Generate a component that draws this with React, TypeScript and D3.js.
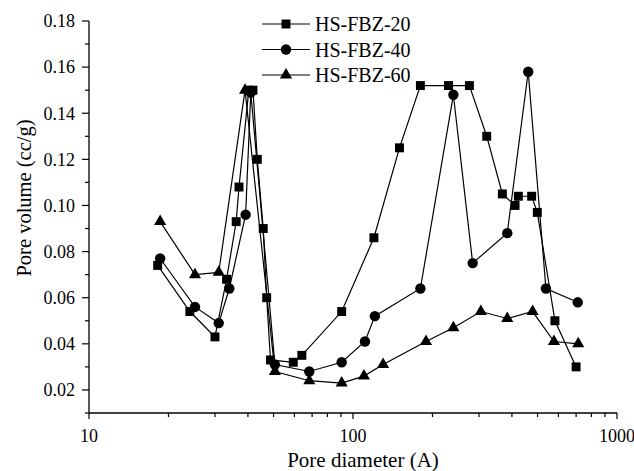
import React from "react";
import * as d3 from "d3";

const x20 = [18.2, 24.1, 30.0, 33.2, 36.1, 37.0, 40.3, 41.8, 43.4, 45.7, 47.1, 48.7, 59.4, 64.0, 90.6, 120, 150, 180, 230, 276, 321, 368, 411, 423, 475, 499, 582, 700];
const y20 = [0.074, 0.054, 0.043, 0.068, 0.093, 0.108, 0.150, 0.150, 0.120, 0.090, 0.060, 0.033, 0.032, 0.035, 0.054, 0.086, 0.125, 0.152, 0.152, 0.152, 0.130, 0.105, 0.100, 0.104, 0.104, 0.097, 0.050, 0.030];

const x40 = [18.6, 25.2, 31.0, 34.0, 39.2, 41.0, 50.6, 68.3, 90.6, 111, 121, 180, 240, 284, 384, 461, 538, 710];
const y40 = [0.077, 0.056, 0.049, 0.064, 0.096, 0.149, 0.031, 0.028, 0.032, 0.041, 0.052, 0.064, 0.148, 0.075, 0.088, 0.158, 0.064, 0.058];

const x60 = [18.6, 25.2, 31.0, 39.0, 50.6, 68.3, 90.6, 110, 130, 189, 240, 305, 384, 479, 577, 713];
const y60 = [0.093, 0.070, 0.071, 0.150, 0.028, 0.024, 0.023, 0.026, 0.031, 0.041, 0.047, 0.054, 0.051, 0.054, 0.041, 0.040];

const seriesNames = ["HS-FBZ-20", "HS-FBZ-40", "HS-FBZ-60"];
const yTicks = [0.02, 0.04, 0.06, 0.08, 0.10, 0.12, 0.14, 0.16, 0.18];
const yMinor = [0.01, 0.03, 0.05, 0.07, 0.09, 0.11, 0.13, 0.15, 0.17];
const xTicks = [10, 100, 1000];
const xMinor = [20, 30, 40, 50, 60, 70, 80, 90, 200, 300, 400, 500, 600, 700, 800, 900];

const FONT = "'Liberation Serif', 'Times New Roman', serif";

export default function App() {
  const x = d3.scaleLog().domain([10, 1000]).range([89, 617]);
  const y = d3.scaleLinear().domain([0.01, 0.18]).range([413, 21]);

  const series = [
    { name: seriesNames[0], xs: x20, ys: y20, sym: d3.symbolSquare, size: 80 },
    { name: seriesNames[1], xs: x40, ys: y40, sym: d3.symbolCircle, size: 85 },
    { name: seriesNames[2], xs: x60, ys: y60, sym: d3.symbolTriangle, size: 64 },
  ];

  const line = d3
    .line<[number, number]>()
    .x((d) => x(d[0]))
    .y((d) => y(d[1]));

  const legendY = [24, 49.5, 75];

  return (
    <svg
      width={634}
      height={471}
      style={{ position: "absolute", left: 0, top: 0, background: "#fff" }}
      fontFamily={FONT}
    >
      <rect x={0} y={0} width={634} height={471} fill="#fff" />
      {/* axes */}
      <line x1={x(10)} x2={x(1000)} y1={y(0.01)} y2={y(0.01)} stroke="#000" strokeWidth={1.3} />
      <line x1={x(10)} x2={x(10)} y1={y(0.01)} y2={y(0.18)} stroke="#000" strokeWidth={1.3} />
      {yTicks.map((t) => (
        <g key={"yt" + t}>
          <line x1={x(10) - 7} x2={x(10)} y1={y(t)} y2={y(t)} stroke="#000" strokeWidth={1.2} />
          <text x={75} y={y(t)} dy="0.35em" textAnchor="end" fontSize={18}>
            {t.toFixed(2)}
          </text>
        </g>
      ))}
      {yMinor.map((t) => (
        <line key={"ym" + t} x1={x(10) - 4} x2={x(10)} y1={y(t)} y2={y(t)} stroke="#000" strokeWidth={1.2} />
      ))}
      {xTicks.map((t) => (
        <g key={"xt" + t}>
          <line x1={x(t)} x2={x(t)} y1={y(0.01)} y2={y(0.01) + 6} stroke="#000" strokeWidth={1.2} />
          <text x={x(t)} y={442} textAnchor="middle" fontSize={18}>
            {t}
          </text>
        </g>
      ))}
      {xMinor.map((t) => (
        <line key={"xm" + t} x1={x(t)} x2={x(t)} y1={y(0.01)} y2={y(0.01) + 4} stroke="#000" strokeWidth={1.2} />
      ))}
      <text x={363} y={467} textAnchor="middle" fontSize={21}>
        Pore diameter (A)
      </text>
      <text
        transform={`translate(31, 198) rotate(-90)`}
        textAnchor="middle"
        fontSize={20.5}
      >
        Pore volume (cc/g)
      </text>

      {/* series */}
      {series.map((s) => {
        const pts: [number, number][] = s.xs.map((v, i) => [v, s.ys[i]]);
        const sp = d3.symbol().type(s.sym).size(s.size)();
        return (
          <g key={s.name}>
            <path d={line(pts) || ""} fill="none" stroke="#000" strokeWidth={1.2} />
            {pts.map((p, i) => (
              <path key={i} d={sp || ""} transform={`translate(${x(p[0])},${y(p[1])})`} fill="#000" />
            ))}
          </g>
        );
      })}

      {/* legend */}
      {series.map((s, i) => {
        const sp = d3.symbol().type(s.sym).size(s.size)();
        return (
          <g key={"lg" + s.name}>
            <line x1={262} x2={310} y1={legendY[i]} y2={legendY[i]} stroke="#000" strokeWidth={1.2} />
            <path d={sp || ""} transform={`translate(286,${legendY[i]})`} fill="#000" />
            <text x={315} y={legendY[i]} dy="0.35em" fontSize={20}>
              {s.name}
            </text>
          </g>
        );
      })}
    </svg>
  );
}
